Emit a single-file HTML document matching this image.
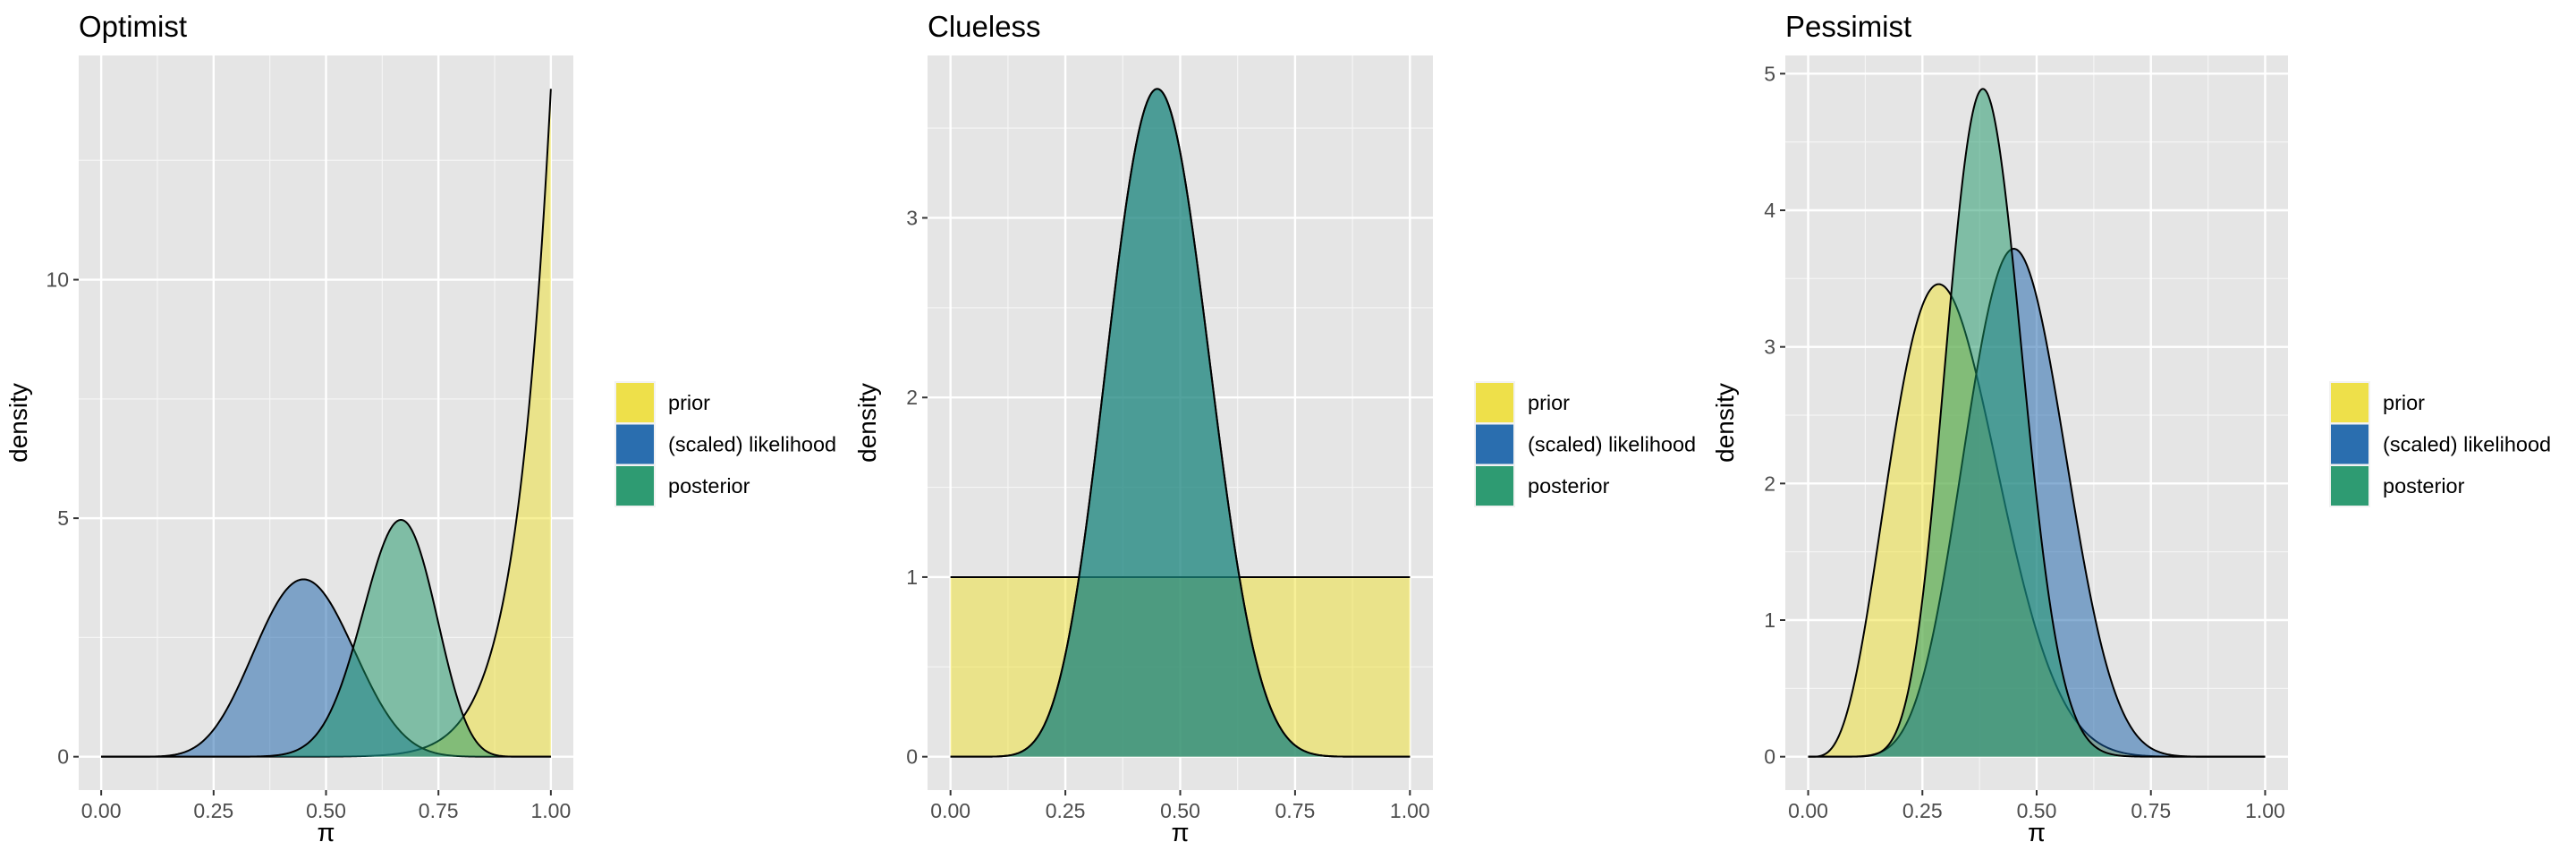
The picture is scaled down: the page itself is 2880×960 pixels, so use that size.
<!DOCTYPE html>
<html><head><meta charset="utf-8">
<style>
html,body{margin:0;padding:0;background:#fff;}
svg{display:block;}
text{font-family:"Liberation Sans",Arial,sans-serif;}
</style></head>
<body>
<svg id="chart" width="2880" height="960" viewBox="0 0 2880 960" xmlns="http://www.w3.org/2000/svg"></svg>
<script>
const panelTitles = ["Optimist", "Clueless", "Pessimist"];
const priorAlpha = [14, 1, 5];
const priorBeta = [1, 1, 11];
const successes = [9, 9, 9];
const trials = [20, 20, 20];
const yMajorTicks = [[0, 5, 10], [0, 1, 2, 3], [0, 1, 2, 3, 4, 5]];
const xTicks = [0, 0.25, 0.5, 0.75, 1];
const xTickLabels = ["0.00", "0.25", "0.50", "0.75", "1.00"];
const legendLabels = ["prior", "(scaled) likelihood", "posterior"];

const fillColors = ["#EFE130", "#1660A9", "#1A9566"];
const keyColors = ["#EEE04A", "#2A6EAF", "#2E9B72"];
const chartSvg = document.getElementById('chart');
const SVGNS = "http://www.w3.org/2000/svg";
function mk(tag, attrs, parent) {
  const e = document.createElementNS(SVGNS, tag);
  for (const k in attrs) e.setAttribute(k, attrs[k]);
  (parent || chartSvg).appendChild(e);
  return e;
}
function lgammaFn(z) {
  const g = 7, c = [0.99999999999980993, 676.5203681218851, -1259.1392167224028, 771.32342877765313,
    -176.61502916214059, 12.507343278686905, -0.13857109526572012, 9.9843695780195716e-6, 1.5056327351493116e-7];
  if (z < 0.5) return Math.log(Math.PI / Math.sin(Math.PI * z)) - lgammaFn(1 - z);
  z -= 1; let x = c[0];
  for (let i = 1; i < g + 2; i++) x += c[i] / (z + i);
  const t = z + g + 0.5;
  return 0.5 * Math.log(2 * Math.PI) + (z + 0.5) * Math.log(t) - t + Math.log(x);
}
function dbeta(x, a, b) {
  const lc = lgammaFn(a + b) - lgammaFn(a) - lgammaFn(b);
  if (x <= 0) return a === 1 ? Math.exp(lc) : (a < 1 ? Infinity : 0);
  if (x >= 1) return b === 1 ? Math.exp(lc) : (b < 1 ? Infinity : 0);
  return Math.exp(lc + (a - 1) * Math.log(x) + (b - 1) * Math.log(1 - x));
}
const panelLeft = [88, 1037, 1996];
const panelWidths = [553, 565, 562];
const plotTop = 62, plotBottom = 883;
const NPTS = 400;

for (let p = 0; p < 3; p++) {
  const g = mk('g', {});
  
  
  const L = panelLeft[p], panelW = panelWidths[p], R = L + panelW;
  const params = [
    [priorAlpha[p], priorBeta[p]],
    [successes[p] + 1, trials[p] - successes[p] + 1],
    [priorAlpha[p] + successes[p], priorBeta[p] + trials[p] - successes[p]]
  ];
  const curves = params.map(ab => {
    const pts = [];
    for (let i = 0; i <= NPTS; i++) { const x = i / NPTS; pts.push([x, dbeta(x, ab[0], ab[1])]); }
    return pts;
  });
  let ymax = 0;
  curves.forEach(c => c.forEach(pt => { if (isFinite(pt[1]) && pt[1] > ymax) ymax = pt[1]; }));
  const xs = v => L + (v + 0.05) / 1.1 * panelW;
  const ys = v => plotBottom - (v + 0.05 * ymax) / (1.1 * ymax) * (plotBottom - plotTop);
  const bg = mk('rect', {x: L, y: plotTop, width: panelW, height: plotBottom - plotTop, fill: '#E5E5E5'}, g);
  
  
  const yt = yMajorTicks[p];
  const step = yt[1] - yt[0];
  for (let v = step / 2; v <= ymax * 1.06; v += step) {
    const yy = ys(v); if (yy < plotTop) break;
    const ln = mk('line', {x1: L, x2: R, y1: yy, y2: yy, stroke: '#F5F5F5', 'stroke-width': 1.2}, g);
    
    
  }
  for (let i = 0; i < 4; i++) {
    const xx = xs(xTicks[i] + 0.125);
    const ln = mk('line', {x1: xx, x2: xx, y1: plotTop, y2: plotBottom, stroke: '#F5F5F5', 'stroke-width': 1.2}, g);
    
    
  }
  yt.forEach(v => {
    const yy = ys(v);
    const ln = mk('line', {x1: L, x2: R, y1: yy, y2: yy, stroke: '#FFFFFF', 'stroke-width': 2.4}, g);
    
    
    const tk = mk('line', {x1: L - 6, x2: L, y1: yy, y2: yy, stroke: '#333', 'stroke-width': 2}, g);
    
    
    const tl = mk('text', {x: L - 11, y: yy + 8, 'text-anchor': 'end', 'font-size': 23, fill: '#4D4D4D'}, g);
    
    
    tl.textContent = String(v);
  });
  xTicks.forEach((v, i) => {
    const xx = xs(v);
    const ln = mk('line', {x1: xx, x2: xx, y1: plotTop, y2: plotBottom, stroke: '#FFFFFF', 'stroke-width': 2.4}, g);
    
    
    const tk = mk('line', {x1: xx, x2: xx, y1: plotBottom, y2: plotBottom + 6, stroke: '#333', 'stroke-width': 2}, g);
    
    
    const tl = mk('text', {x: xx, y: plotBottom + 31, 'text-anchor': 'middle', 'font-size': 23, fill: '#4D4D4D'}, g);
    
    
    tl.textContent = xTickLabels[i];
  });
  curves.forEach((c, k) => {
    let line = '';
    c.forEach((pt, i) => { const yv = isFinite(pt[1]) ? Math.min(pt[1], ymax) : ymax; line += (i ? ' L' : 'M') + xs(pt[0]).toFixed(2) + ',' + ys(yv).toFixed(2); });
    const area = 'M' + xs(0) + ',' + ys(0) + ' L' + line.slice(1) + ' L' + xs(1) + ',' + ys(0) + ' Z';
    const a = mk('path', {d: area, fill: fillColors[k], 'fill-opacity': 0.5, stroke: 'none'}, g);
    
    
    const o = mk('path', {d: line, fill: 'none', stroke: '#000', 'stroke-width': 2, 'stroke-linejoin': 'round'}, g);
    
    
  });
  const t = mk('text', {x: L, y: 41, 'font-size': 33, fill: '#000'}, g);
  
  
  t.textContent = panelTitles[p];
  const xt = mk('text', {x: (L + R) / 2, y: 940, 'text-anchor': 'middle', 'font-size': 29, fill: '#000', 'font-family': '"Liberation Serif",serif'}, g);
  
  
  xt.textContent = 'π';
  const yx = L - 58, yy0 = (plotTop + plotBottom) / 2;
  const ytl = mk('text', {x: yx, y: yy0, 'text-anchor': 'middle', 'font-size': 28, fill: '#000', transform: 'rotate(-90 ' + yx + ' ' + yy0 + ')'}, g);
  
  
  ytl.textContent = 'density';
  const lx = R + 47, ly = 427;
  legendLabels.forEach((lab, k) => {
    const kr = mk('rect', {x: lx, y: ly + k * 46.5, width: 44, height: 46, fill: keyColors[k], stroke: '#F2F2F2', 'stroke-width': 2}, g);
    
    
    const lt = mk('text', {x: lx + 59, y: ly + k * 46.5 + 31, 'font-size': 23.5, fill: '#000'}, g);
    
    
    lt.textContent = lab;
  });
}
</script>
</body></html>
